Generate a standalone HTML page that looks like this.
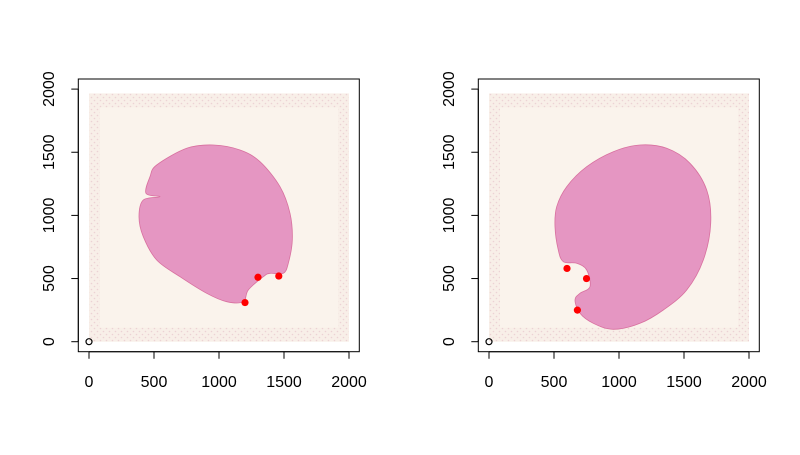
<!DOCTYPE html>
<html><head><meta charset="utf-8"><style>
body{margin:0;background:#fff}
svg text{font-family:"Liberation Sans",sans-serif;font-size:16px;fill:#000}
</style></head><body>
<svg id="chart" width="800" height="450" viewBox="0 0 800 450">
<defs>
<pattern id="dots" width="6" height="6" patternUnits="userSpaceOnUse">
<rect width="6" height="6" fill="#f8efe8"/>
<circle cx="1.5" cy="1.5" r="0.8" fill="#ecd2d4"/>
<circle cx="4.5" cy="4.5" r="0.8" fill="#ecd2d4"/>
</pattern>
</defs>
</svg>
<script>
const xTicks=[0,500,1000,1500,2000];
const yTicks=[0,500,1000,1500,2000];
const panel1X=[1200,1300,1460];
const panel1Y=[310,510,520];
const panel2X=[600,750,680];
const panel2Y=[580,500,250];
const tissue1=[[156.7,165],[186.7,148.3],[213.3,145],[240,150],[260,161.7],[280,186.7],[290,213.3],[292.3,240],[288.3,263.3],[283.3,273.3],[270,273.3],[263.3,276.7],[248.3,290],[243.3,301.7],[226.7,301.7],[206.7,293.3],[180,276.7],[156.7,260],[143.3,236.7],[139,216.7],[143.3,200],[160,196.7],[146,193.3],[150,176.7]];
const tissue2=[[556.7,206.7],[566.7,186.7],[586.7,166.7],[613.3,151.7],[640,145],[666.7,148.3],[690,163.3],[706.7,190],[710.7,223.3],[703.3,260],[686.7,290],[663.3,310],[640,323.3],[613.3,329.3],[593.3,323.3],[580,313.3],[575,300],[580,293.3],[590,286.7],[586.7,270],[576.7,263.3],[563.3,261.7],[558.3,250],[555,226.7]];
const svg=document.getElementById('chart');
const NS='http://www.w3.org/2000/svg';
function mk(tag,attrs,parent){const e=document.createElementNS(NS,tag);for(const k in attrs)e.setAttribute(k,attrs[k]);(parent||svg).appendChild(e);return e;}
function smooth(p){
  const n=p.length;let d='M'+p[0].join(',');
  for(let i=0;i<n;i++){
    const p0=p[(i-1+n)%n],p1=p[i],p2=p[(i+1)%n],p3=p[(i+2)%n];
    const c1=[p1[0]+(p2[0]-p0[0])/6,p1[1]+(p2[1]-p0[1])/6];
    const c2=[p2[0]-(p3[0]-p1[0])/6,p2[1]-(p3[1]-p1[1])/6];
    d+='C'+c1.join(',')+' '+c2.join(',')+' '+p2.join(',');
  }
  return d+'Z';
}
function panel(x0,xs,ys,tissue,idx){
  const sx=v=>x0+v*0.13;
  const sy=v=>341.7-v*0.1263;
  const g=mk('g',{});
  
  
  const img=mk('rect',{x:sx(0),y:sy(1966),width:sx(2000)-sx(0),height:sy(0)-sy(1966),fill:'url(#dots)'},g);
  
  
  mk('rect',{x:sx(0)+11,y:sy(1966)+14,width:sx(2000)-sx(0)-22,height:sy(0)-sy(1966)-28,fill:'#faf3ec'},g);
  const t=mk('path',{d:smooth(tissue),fill:'#e596c2',stroke:'#d8709f','stroke-width':0.8},g);
  
  
  const box=mk('rect',{x:x0-10.7,y:79,width:281,height:272.7,fill:'none',stroke:'#000','stroke-width':1},g);
  
  
  xTicks.forEach(v=>{
    mk('line',{x1:sx(v),x2:sx(v),y1:351.7,y2:358.7,stroke:'#000'},g);
    const tx=mk('text',{x:sx(v),y:387,'text-anchor':'middle'},g);tx.textContent=v;
    
    
  });
  mk('line',{x1:sx(0),x2:sx(2000),y1:351.7,y2:351.7,stroke:'#000'},g);
  yTicks.forEach(v=>{
    mk('line',{x1:x0-10.7,x2:x0-17.7,y1:sy(v),y2:sy(v),stroke:'#000'},g);
    const ty=mk('text',{x:0,y:0,'text-anchor':'middle',transform:`translate(${x0-35},${sy(v)}) rotate(-90)`},g);ty.textContent=v;
    
    
  });
  mk('line',{x1:x0-10.7,x2:x0-10.7,y1:sy(0),y2:sy(2000),stroke:'#000'},g);
  const o=mk('circle',{cx:sx(0),cy:sy(0),r:3,fill:'none',stroke:'#000','stroke-width':1.2},g);
  
  
  xs.forEach((v,i)=>{
    const c=mk('circle',{cx:sx(v),cy:sy(ys[i]),r:3.6,fill:'#ff0000'},g);
    
    
  });
}
panel(89,panel1X,panel1Y,tissue1,1);
panel(489,panel2X,panel2Y,tissue2,2);
</script>
</body></html>
